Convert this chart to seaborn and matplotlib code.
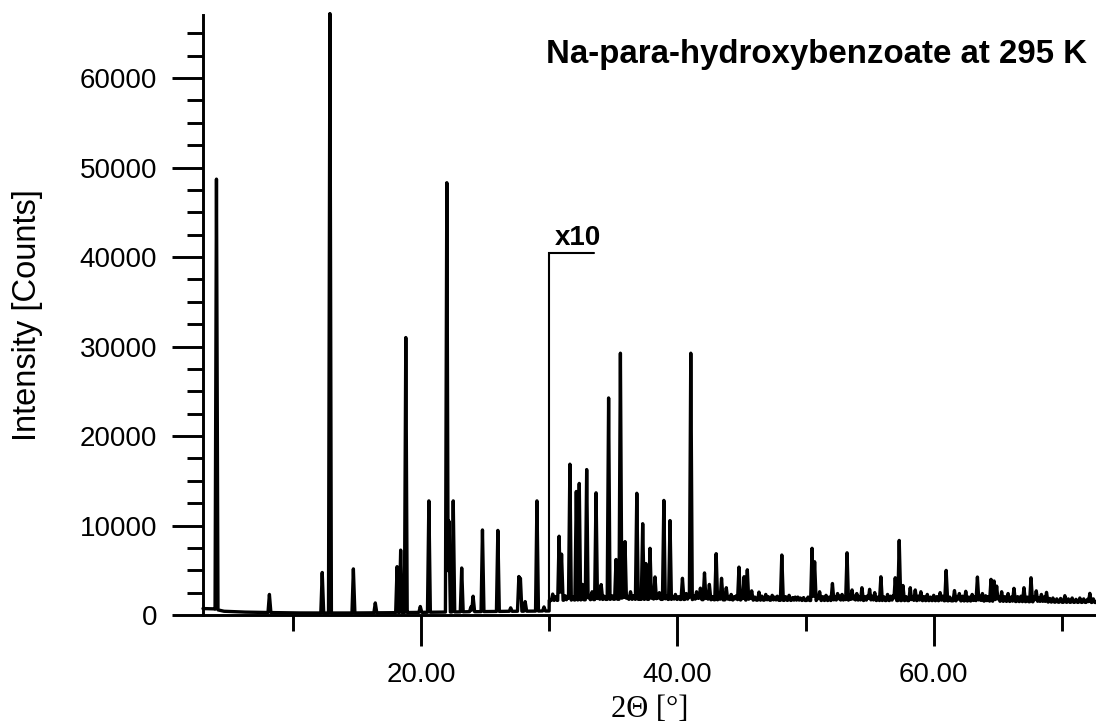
import numpy as np
import pandas as pd
import matplotlib
matplotlib.use("Agg")
import matplotlib.pyplot as plt
import seaborn as sns
from matplotlib.ticker import MultipleLocator, FixedLocator, FuncFormatter

sns.set_style("ticks")
plt.rcParams['font.family'] = ['Liberation Sans', 'DejaVu Sans']
plt.rcParams['text.color'] = 'black'
plt.rcParams['axes.labelcolor'] = 'black'

# ---------------- data ----------------
# low-angle part (2theta < 30), counts as measured
low_bg_x = [3.0, 3.8, 4.6, 6.0, 8.0, 10.0, 14.0, 18.0, 22.0, 26.0, 30.0]
low_bg_y = [720, 700, 420, 330, 280, 230, 220, 260, 330, 400, 450]
low_pos = [4.05, 8.18, 12.30, 12.90, 14.73, 16.44, 18.14, 18.42, 18.82, 19.95,
           20.62, 22.02, 22.18, 22.52, 23.18, 23.90, 24.07, 24.80, 26.00, 27.00,
           27.64, 27.76, 28.13, 29.05, 29.60]
low_h = [48700, 2300, 4750, 67200, 5150, 1350, 5400, 7250, 31000, 950,
         12750, 48300, 10500, 12750, 5250, 900, 2100, 9500, 9450, 800,
         4300, 4100, 1500, 12750, 900]

# high-angle part (2theta >= 30), raw counts, displayed x10
SCALE = 10
hi_bg_x = [30.0, 35.0, 40.0, 45.0, 50.0, 55.0, 60.0, 65.0, 70.0, 72.7]
hi_bg_y = [162, 176, 174, 167, 162, 162, 160, 154, 142, 140]
hi_pos = [30.28, 30.78, 30.97, 31.62, 32.12, 32.35, 32.60, 32.93, 33.35, 33.66,
          34.06, 34.64, 35.22, 35.56, 35.92, 36.35, 36.84, 37.30, 37.55, 37.87,
          38.26, 38.60, 38.95, 39.43, 39.85, 40.40, 40.70, 41.05, 41.50, 41.80,
          42.12, 42.50, 43.03, 43.45, 43.82, 44.20, 44.81, 45.21, 45.46, 45.80,
          46.37, 46.90, 47.40, 47.80, 48.15, 48.72, 49.20, 49.60, 50.51, 50.71,
          51.10, 51.60, 52.10, 52.50, 52.85, 53.24, 53.63, 54.00, 54.40, 55.00,
          55.40, 55.88, 56.40, 57.00, 57.31, 57.60, 58.17, 58.56, 59.00, 59.50,
          60.00, 60.50, 60.97, 61.62, 62.00, 62.50, 63.00, 63.41, 63.80, 64.47,
          64.71, 64.91, 65.30, 65.80, 66.26, 67.04, 67.59, 68.00, 68.40, 68.80,
          69.30, 70.23, 70.80, 71.40, 72.18]
hi_h = [234, 880, 680, 1685, 1380, 1470, 342, 1625, 260, 1365,
        340, 2425, 620, 2925, 820, 260, 1360, 1020, 575, 745,
        425, 250, 1280, 1055, 230, 410, 240, 2925, 260, 300,
        470, 342, 685, 410, 305, 230, 535, 428, 505, 270,
        256, 230, 220, 210, 670, 220, 200, 190, 745, 595,
        260, 220, 352, 240, 230, 695, 280, 240, 305, 287,
        250, 427, 230, 416, 833, 330, 305, 280, 260, 230,
        220, 250, 498, 273, 240, 265, 230, 424, 240, 398,
        380, 323, 260, 240, 298, 305, 416, 270, 230, 253,
        190, 216, 190, 190, 242]
# small bumps of the noisy x10 baseline (raw counts)
bump_pos = [30.50, 31.25, 31.45, 31.85, 33.10, 33.85, 34.30, 34.90, 35.75, 36.10,
            36.60, 38.05, 38.45, 39.15, 39.65, 40.10, 40.90, 41.30, 41.65, 42.30,
            42.75, 43.25, 44.00, 44.45, 44.60, 45.05, 45.65, 46.05, 46.60, 47.10,
            47.60, 48.45, 49.00, 49.40, 49.85, 50.20, 50.95, 51.35, 51.85, 52.30,
            52.65, 53.05, 53.45, 53.80, 54.20, 54.65, 54.85, 55.20, 55.65, 56.10,
            56.65, 56.85, 57.85, 58.35, 58.80, 59.25, 59.75, 60.25, 60.70, 61.25,
            61.85, 62.25, 62.75, 63.20, 63.60, 64.05, 64.25, 65.05, 65.55, 66.05,
            66.55, 66.80, 67.30, 67.85, 68.20, 68.60, 69.05, 69.60, 69.90, 70.50,
            71.10, 71.70, 72.00, 72.45]
bump_h = [205, 215, 210, 205, 220, 215, 210, 215, 220, 210,
          215, 210, 205, 210, 200, 205, 210, 215, 205, 210,
          205, 210, 200, 205, 215, 200, 205, 200, 210, 205,
          200, 205, 195, 200, 195, 200, 210, 205, 200, 205,
          210, 200, 205, 210, 200, 205, 215, 210, 200, 205,
          210, 215, 205, 200, 210, 205, 200, 205, 210, 200,
          205, 210, 200, 205, 210, 215, 205, 200, 205, 200,
          205, 210, 200, 205, 195, 200, 185, 180, 185, 180,
          175, 180, 175, 180]

x_ticks_major = [20, 40, 60]
x_ticks_minor = [10, 30, 50, 70]
y_ticks_major = [0, 10000, 20000, 30000, 40000, 50000, 60000]

MARK_X, MARK_Y, MARK_END = 30.0, 40500, 33.5
TITLE = "Na-para-hydroxybenzoate at 295 K"

# ---------------- build the profile ----------------
W = 0.11


def profile(x, pos, h, bgx, bgy):
    base = np.interp(x, bgx, bgy)
    y = base.copy()
    for p, hh in zip(pos, h):
        hb = np.interp(p, bgx, bgy)
        tri = base + (hh - hb) * np.clip(1 - np.abs(x - p) / W, 0, None)
        y = np.maximum(y, tri)
    return y


def grid(a, b, pos):
    g = np.arange(a, b, 0.004)
    extra = np.concatenate([np.array(pos), np.array(pos) - W, np.array(pos) + W])
    g = np.unique(np.concatenate([g, extra, [a, b]]))
    return g[(g >= a) & (g <= b)]


all_hi_pos = hi_pos + bump_pos
all_hi_h = hi_h + bump_h

x_lo = grid(3.0, 30.0, low_pos)
y_lo = profile(x_lo, low_pos, low_h, low_bg_x, low_bg_y)
x_hi = grid(30.0, 72.7, all_hi_pos)
y_hi = profile(x_hi, all_hi_pos, all_hi_h, hi_bg_x, hi_bg_y) * SCALE

df = pd.DataFrame({"two_theta": np.concatenate([x_lo, x_hi]),
                   "intensity": np.concatenate([y_lo, y_hi])})

# ---------------- figure ----------------
fig = plt.figure(figsize=(10.96, 7.24), dpi=100)
L, R, B, T = 203, 1096, 615, 15
ax = fig.add_axes([L / 1096, 1 - B / 724, (R - L) / 1096, (B - T) / 724])

sns.lineplot(data=df, x="two_theta", y="intensity", ax=ax, color="black",
             lw=2.4, estimator=None, sort=False)
for ln in ax.lines:
    ln.set_clip_on(False)

ax.set_xlim(3.0, 72.66)
ax.set_ylim(0, 67040)

# x10 marker
base_at_mark = np.interp(MARK_X, x_hi, y_hi)
ax.plot([MARK_X, MARK_X, MARK_END], [base_at_mark, MARK_Y, MARK_Y],
        color="black", lw=1.5, solid_joinstyle="miter")
ax.text(MARK_X + 0.46, MARK_Y + 800, "x10", fontsize=20, fontweight="bold",
        ha="left", va="baseline", color="black")

ax.set_yticks(y_ticks_major)
ax.yaxis.set_minor_locator(MultipleLocator(2500))
ax.xaxis.set_major_locator(FixedLocator(x_ticks_major))
ax.xaxis.set_minor_locator(FixedLocator(x_ticks_minor))
ax.xaxis.set_major_formatter(FuncFormatter(lambda v, p: f"{v:.2f}"))
ax.yaxis.set_major_formatter(FuncFormatter(lambda v, p: f"{int(v)}"))

ax.tick_params(which="major", length=22, width=2.1, labelsize=20, pad=11,
               color="black", labelcolor="black")
ax.tick_params(which="minor", length=11.5, width=2.1, color="black")
ax.tick_params(axis="x", which="major", pad=12)

sns.despine(ax=ax)
for s in ["left", "bottom"]:
    ax.spines[s].set_linewidth(2.1)
    ax.spines[s].set_color("black")

ax.set_ylabel("Intensity [Counts]", fontsize=23.5, va="center", color="black")
ax.yaxis.set_label_coords(-0.1965, 0.5)
ax.set_xlabel("2\u0398 [\u00b0]", fontsize=22, family=["Liberation Serif", "DejaVu Serif"],
              va="center", color="black")
ax.xaxis.set_label_coords(0.5, -0.157)

fig.text(1087 / 1096, 1 - 55 / 724, TITLE, fontsize=23.8, fontweight="bold",
         ha="right", va="center", color="black")

fig.savefig("out.png", dpi=100, facecolor="white")
